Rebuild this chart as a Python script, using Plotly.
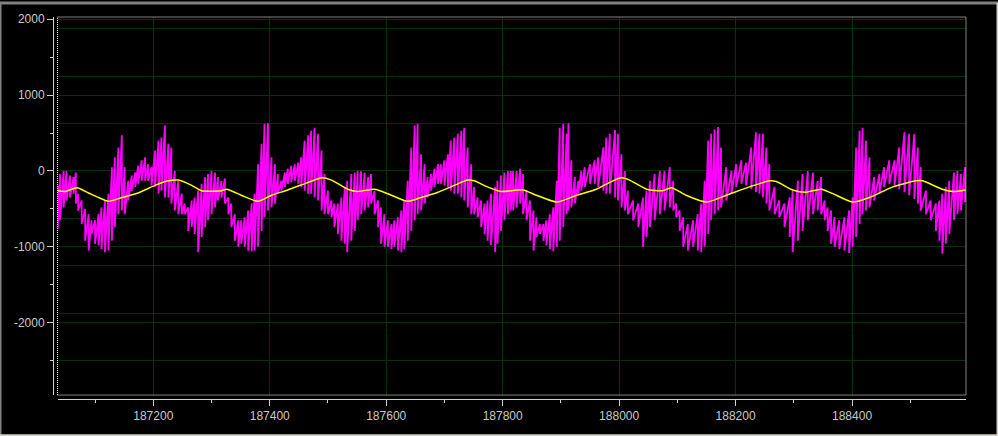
import plotly.graph_objects as go

# ---------------- data ----------------
mag_x = [187036,187040,187046,187051,187057,187063,187067,187071,187077,187083,187089,187094,187100,187106,187111,187117,187123,187129,187134,187140,
         187146,187151,187157,187163,187169,187174,187180,187186,187191,187197,187203,187209,187214,187220,187226,187231,187237,187243,187249,187254,
         187260,187266,187271,187277,187283,187289,187294,187300,187306,187311,187317,187323,187329,187334,187340,187346,187351,187357,187363,187369,
         187374,187380,187386,187391,187397,187403,187409,187414,187420,187426,187431,187437,187443,187449,187454,187460,187466,187471,187477,187483,
         187489,187494,187500,187506,187511,187517,187523,187529,187533,187540,187546,187551,187557,187563,187569,187574,187580,187586,187591,187597,
         187603,187609,187614,187620,187626,187631,187637,187643,187649,187654,187660,187666,187671,187677,187683,187689,187694,187700,187706,187711,
         187717,187723,187729,187734,187740,187746,187751,187757,187763,187769,187774,187780,187787,187791,187797,187803,187809,187814,
         187818,187824,187830,187835,187841,187847,187853,187858,187864,187870,187875,187881,187887,187893,187898,187904,187910,187913,187918,187924,
         187930,187935,187941,187950,187958,187964,187973,187978,187984,187993,187998,188004,188010,188015,188024,188033,188041,188047,188053,188061,
         188070,188078,188087,188093,188098,188104,188110,188118,188127,188135,188141,188147,188153,188158,188164,188170,188175,188184,188193,188201,
         188210,188218,188227,188235,188241,188247,188253,188258,188267,188275,188284,188293,188298,188307,188315,188324,188333,188341,188347,188353,
         188358,188364,188370,188378,188387,188395,188401,188407,188413,188418,188424,188430,188438,188447,188455,188464,188473,188481,188490,188498,
         188507,188513,188518,188527,188535,188544,188550,188555,188561,188567,188575,188581,188587,188594]

mag_hi = [-190,-40,0,0,-60,-80,-20,-300,-390,-500,-570,-650,-650,-570,-480,-390,-300,50,180,310,
          470,50,-130,-60,-20,70,140,180,90,50,270,400,440,600,360,310,0,-130,-300,-430,
          -480,-390,-350,-260,-170,-80,-40,0,-20,-80,-130,-100,-350,-430,-570,-650,-650,-610,-520,-430,
          -300,90,360,620,630,180,90,-40,-130,-20,30,70,90,110,180,400,470,530,570,490,
          270,-40,-260,-390,-430,-430,-350,-210,-130,-40,-20,0,0,-20,-80,-40,-260,-390,-480,-570,
          -650,-700,-650,-610,-520,-390,-130,310,600,620,220,90,-80,-40,30,90,90,140,220,400,
          440,490,530,570,310,90,-210,-350,-390,-430,-390,-300,-210,-130,-60,-20,0,0,
          0,0,30,-40,-260,-390,-520,-610,-700,-700,-650,-570,-480,-130,570,620,490,630,140,-80,
          -130,0,50,90,140,180,310,440,490,540,490,220,0,-260,-390,-430,-350,-260,-130,-40,
          0,0,50,-130,-430,-520,-610,-700,-650,-570,-430,-130,400,490,550,580,310,50,0,90,
          140,110,310,510,490,490,310,90,-210,-390,-430,-350,-260,-130,-40,0,-20,-130,-80,-390,
          -480,-520,-610,-650,-610,-520,-350,310,530,570,400,180,-80,-40,50,140,140,310,510,490,
          490,310,50,-260,-390,-430,-390,-300,-210,-130,-20,0,-40,50]

mag_lo = [-760,-650,-480,-390,-350,-300,-430,-520,-700,-920,-1050,-830,-960,-980,-1030,-1070,-1050,-920,-740,-570,
          -520,-570,-390,-260,-210,-170,-130,-130,-130,-190,-210,-300,-260,-350,-350,-430,-520,-570,-570,-570,
          -790,-740,-830,-1070,-870,-740,-650,-570,-480,-390,-350,-430,-570,-740,-920,-1000,-960,-1000,-1050,-1060,
          -1050,-1000,-790,-610,-520,-480,-430,-300,-260,-210,-170,-150,-130,-170,-210,-260,-300,-300,-350,-390,
          -520,-570,-570,-610,-740,-830,-920,-960,-1070,-920,-790,-650,-570,-520,-480,-430,-570,-740,-960,-1000,
          -1000,-1030,-1000,-1050,-1070,-1030,-920,-790,-650,-570,-520,-430,-350,-260,-210,-170,-170,-190,-210,-260,
          -300,-300,-350,-390,-480,-570,-570,-610,-740,-830,-920,-980,-1070,-960,-790,-650,-570,-520,
          -520,-480,-430,-570,-650,-920,-1050,-870,-830,-920,-980,-1030,-1060,-1000,-920,-740,-570,-520,-480,-430,
          -300,-260,-210,-170,-170,-210,-260,-300,-300,-350,-390,-480,-520,-570,-650,-740,-1000,-870,-740,-650,
          -570,-520,-480,-520,-610,-790,-1000,-1050,-1000,-1050,-1070,-1000,-830,-650,-570,-520,-480,-390,-300,-210,
          -170,-190,-240,-280,-300,-350,-430,-520,-570,-610,-740,-870,-1070,-920,-790,-650,-570,-520,-570,-650,
          -790,-960,-1000,-1030,-1050,-1080,-1000,-870,-700,-570,-520,-480,-390,-300,-210,-170,-190,-240,-280,-320,
          -370,-430,-520,-570,-650,-790,-920,-1090,-960,-830,-650,-570,-520,-410]

yel_x = [187036,187049,187069,187089,187106,187123,187146,187174,187203,187226,187243,187266,187283,187317,187326,187351,187380,187403,187431,187466,
         187489,187506,187534,187551,187580,187603,187637,187660,187689,187717,187740,187751,187774,187797,
         187835,187858,187893,187927,187961,187984,188004,188018,188047,188075,188090,188115,188150,188184,188224,188258,
         188270,188298,188321,188347,188373,188401,188430,188470,188510,188521,188555,188573,188595]
yel_y = [-260,-270,-220,-290,-350,-400,-350,-290,-190,-130,-120,-190,-260,-260,-240,-320,-400,-320,-250,-150,
         -90,-120,-240,-270,-240,-300,-400,-350,-280,-190,-120,-130,-210,-270,
         -250,-320,-410,-320,-240,-150,-90,-120,-240,-260,-220,-320,-410,-320,-210,-130,
         -140,-250,-280,-240,-320,-410,-350,-210,-130,-130,-240,-270,-250]

x_tick_vals = [187200, 187400, 187600, 187800, 188000, 188200, 188400]
x_tick_text = ["187200", "187400", "187600", "187800", "188000", "188200", "188400"]
y_tick_vals = [-2000, -1000, 0, 1000, 2000]
y_tick_text = ["-2000", "-1000", "0", "1000", "2000"]

X_RANGE = [187035.5, 188595.7]
Y_RANGE = [-2954, 2030]

# ---------------- build traces ----------------
mx, my = [], []
for x, hi, lo in zip(mag_x, mag_hi, mag_lo):
    mx += [x, x]
    my += [hi, lo]

GRID = "#063206"
AXC = "#d0d0d0"
LBL = "#c8c8c8"

fig = go.Figure()
fig.add_trace(go.Scatter(x=mx, y=my, mode="lines",
                         line=dict(color="#ff00ff", width=1.8, simplify=False), hoverinfo="skip"))
fig.add_trace(go.Scatter(x=yel_x, y=yel_y, mode="lines", yaxis="y2",
                         line=dict(color="#ffff00", width=1.5, shape="spline", smoothing=0.6),
                         hoverinfo="skip"))

W, H = 998, 436
ML, MR, MT, MB = 53, 32, 14, 37
pw = W - ML - MR
ph = H - MT - MB

fig.update_layout(
    width=W, height=H,
    margin=dict(l=ML, r=MR, t=MT, b=MB, pad=0),
    paper_bgcolor="black", plot_bgcolor="black",
    showlegend=False,
    font=dict(family="Arial, Liberation Sans, sans-serif", size=12, color=LBL),
    xaxis=dict(range=X_RANGE, domain=[4.5 / pw, 1], anchor="free", position=0,
               tickmode="array", tickvals=x_tick_vals, ticktext=x_tick_text,
               showgrid=True, gridcolor=GRID, gridwidth=1, zeroline=False,
               showline=True, linecolor=AXC, linewidth=1,
               ticks="outside", ticklen=6, tickcolor=AXC, tickwidth=1,
               minor=dict(dtick=100, tick0=187000, ticks="outside", ticklen=3,
                          tickcolor=AXC, showgrid=False),
               tickfont=dict(size=12, color=LBL)),
    yaxis=dict(range=Y_RANGE, domain=[4 / ph, 1], anchor="free", position=0,
               tickmode="array", tickvals=y_tick_vals, ticktext=y_tick_text,
               showgrid=True, gridcolor=GRID, gridwidth=1, zeroline=False,
               showline=True, linecolor=AXC, linewidth=1,
               ticks="outside", ticklen=6, tickcolor=AXC, tickwidth=1,
               minor=dict(dtick=500, tick0=0, ticks="outside", ticklen=3,
                          tickcolor=AXC, showgrid=False),
               tickfont=dict(size=12, color=LBL)),
    yaxis2=dict(range=Y_RANGE, overlaying="y", dtick=625, tick0=0,
                showgrid=True, gridcolor=GRID, gridwidth=1, zeroline=False,
                showticklabels=False, ticks="", showline=False),
)

# dotted frame around plotting area
fig.add_shape(type="rect", xref="x domain", yref="y domain", x0=0, x1=1, y0=0, y1=1,
              line=dict(color="white", width=1, dash="1px,1px"), layer="above")

# window bevel border
fx0, fx1 = -ML / pw, (W - ML) / pw
fy0, fy1 = -MB / ph, (H - MB) / ph
fig.add_shape(type="line", xref="paper", yref="paper", x0=fx0, x1=fx1, y0=fy1, y1=fy1,
              line=dict(color="#808080", width=3))
fig.add_shape(type="line", xref="paper", yref="paper", x0=fx0, x1=fx0, y0=fy0, y1=fy1,
              line=dict(color="#808080", width=3))
fig.add_shape(type="line", xref="paper", yref="paper", x0=fx0, x1=fx1, y0=fy0, y1=fy0,
              line=dict(color="#d4d0c8", width=3))
fig.add_shape(type="line", xref="paper", yref="paper", x0=fx1, x1=fx1, y0=fy0, y1=fy1,
              line=dict(color="#d4d0c8", width=3))

fig.write_html("out.html", config={"displayModeBar": False},
               post_script="document.body.style.margin='0';document.body.style.overflow='hidden';")
